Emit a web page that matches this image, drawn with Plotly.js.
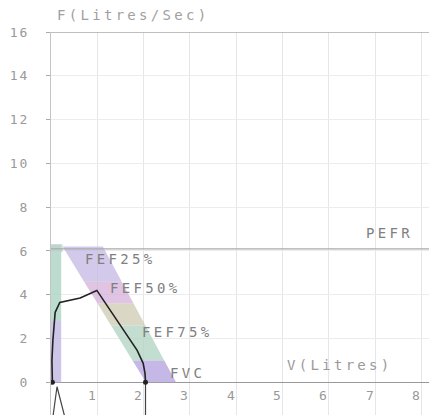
<!DOCTYPE html>
<html>
<head>
<meta charset="utf-8">
<script src="https://cdn.plot.ly/plotly-3.0.1.min.js"></script>
<style>
html, body { margin: 0; padding: 0; background: #fff; }
#chart { width: 429px; height: 415px; }
.annotation-text { letter-spacing: 3.3px; }
.ytick text { letter-spacing: 2px; }
</style>
</head>
<body>
<div id="chart"></div>
<script>
// ---- Data ----
// Expiratory flow-volume curve
const curveV = [0.03, 0.02, 0.04, 0.09, 0.19, 0.63, 0.99, 1.27, 1.56, 1.86, 1.99, 2.03, 2.04];
const curveF = [0.0, 1.0, 1.9, 3.2, 3.65, 3.85, 4.2, 3.3, 2.4, 1.46, 0.87, 0.4, 0.0];
// Visible parts of the inspiratory trace (below zero)
const inspV = [2.04, 2.04, null, 0.04, 0.13, 0.30];
const inspF = [0.0, -2.0, null, -1.6, -0.2, -1.6];
// Predicted band (vertical part near V=0)
const vertBandV = [0, 0.22];
const vertBandF = [0, 2.8, 6.3];
// Predicted band (diagonal part): edges at F = bandTopF and F = 0
const bandTopF = 6.2;
const bandInnerV = [0.25, 2.05];
const bandOuterV = [1.12, 2.7];
const bandSplitsF = [6.2, 4.6, 3.6, 2.6, 1.0, 0.0];
// Reference lines
const pefr = 6.1;
// Labels
const labelNames = ["FEF25%", "FEF50%", "FEF75%", "FVC", "PEFR"];
const labelV = [0.68, 1.23, 1.92, 2.53, 6.75];
const labelF = [5.65, 4.3, 2.3, 0.42, 6.8];
const xTicks = [1, 2, 3, 4, 5, 6, 7, 8];
const yTicks = [0, 2, 4, 6, 8, 10, 12, 14, 16];
const xTitle = "V(Litres)";
const yTitle = "F(Litres/Sec)";

// ---- Styles ----
const bandColors = ['rgba(196,184,228,0.75)', 'rgba(214,176,218,0.75)', 'rgba(206,202,176,0.75)',
                    'rgba(180,214,196,0.8)', 'rgba(188,172,226,0.85)'];
const vertColors = ['rgba(192,184,226,0.8)', 'rgba(178,214,200,0.85)'];
const textFont = {family: 'DejaVu Sans Mono, monospace', size: 14, color: '#808080'};

function edge(vals, F) { // linear edge position at flow F
  return vals[1] + (vals[0] - vals[1]) * (F / bandTopF);
}

const traces = [];
// vertical band
for (let i = 0; i < vertBandF.length - 1; i++) {
  const f0 = vertBandF[i], f1 = vertBandF[i + 1];
  traces.push({
    x: [vertBandV[0], vertBandV[1], vertBandV[1], vertBandV[0], vertBandV[0]],
    y: [f0, f0, f1, f1, f0],
    mode: 'lines', fill: 'toself', fillcolor: vertColors[i],
    line: {width: 0}, hoverinfo: 'skip', showlegend: false
  });
}
// diagonal band
for (let i = 0; i < bandSplitsF.length - 1; i++) {
  const fTop = bandSplitsF[i], fBot = bandSplitsF[i + 1];
  traces.push({
    x: [edge(bandInnerV, fTop), edge(bandOuterV, fTop), edge(bandOuterV, fBot), edge(bandInnerV, fBot), edge(bandInnerV, fTop)],
    y: [fTop, fTop, fBot, fBot, fTop],
    mode: 'lines', fill: 'toself', fillcolor: bandColors[i],
    line: {width: 0}, hoverinfo: 'skip', showlegend: false
  });
}
// top connector of band
traces.push({
  x: [0, edge(bandInnerV, bandTopF), edge(bandInnerV, bandTopF), 0, 0],
  y: [5.95, 5.95, 6.3, 6.3, 5.95],
  mode: 'lines', fill: 'toself', fillcolor: 'rgba(190,210,205,0.8)',
  line: {width: 0}, hoverinfo: 'skip', showlegend: false
});
// curve
traces.push({x: curveV, y: curveF, mode: 'lines', line: {color: '#222', width: 1.6},
  showlegend: false, hoverinfo: 'skip'});
traces.push({x: inspV, y: inspF, mode: 'lines', line: {color: '#444', width: 1.2},
  showlegend: false, hoverinfo: 'skip', connectgaps: false});
traces.push({x: [curveV[0], curveV[curveV.length - 1]], y: [curveF[0], curveF[curveF.length - 1]],
  mode: 'markers', marker: {color: '#222', size: 5}, showlegend: false, hoverinfo: 'skip'});

const annotations = [];
for (let i = 0; i < labelNames.length; i++) {
  annotations.push({x: labelV[i], y: labelF[i], xref: 'x', yref: 'y', text: labelNames[i],
    showarrow: false, xanchor: 'left', yanchor: 'middle', font: textFont});
}
for (const t of xTicks) {
  annotations.push({x: t, y: -0.62, xref: 'x', yref: 'y', text: String(t), xshift: -4,
    showarrow: false, xanchor: 'center', yanchor: 'middle',
    font: {family: 'DejaVu Sans Mono, monospace', size: 13, color: '#999'}});
}
annotations.push({x: 5.05, y: 0.8, xref: 'x', yref: 'y', text: xTitle, showarrow: false,
  xanchor: 'left', yanchor: 'middle', font: {family: 'DejaVu Sans Mono, monospace', size: 14, color: '#9a9a9a'}});
annotations.push({x: 0.01, y: 1.045, xref: 'paper', yref: 'paper', text: yTitle, showarrow: false,
  xanchor: 'left', yanchor: 'middle', font: {family: 'DejaVu Sans Mono, monospace', size: 14, color: '#a0a0a0'}});

const layout = {
  width: 429, height: 415,
  margin: {l: 51, r: 0, t: 32, b: 0, pad: 0},
  paper_bgcolor: '#fff', plot_bgcolor: '#fff',
  showlegend: false,
  xaxis: {range: [0, 8.16], dtick: 1, tick0: 0, showgrid: true, gridcolor: '#e6e6e6',
    showticklabels: false, zeroline: false, showline: false, ticks: ''},
  yaxis: {range: [-1.49, 16], tickvals: yTicks, showgrid: true, gridcolor: '#ececec',
    showline: true, linecolor: '#c4c4c4', ticks: 'outside', ticklen: 4, tickcolor: '#aaa',
    ticklabelstandoff: 14,
    tickfont: {family: 'DejaVu Sans Mono, monospace', size: 13, color: '#999'},
    zeroline: true, zerolinecolor: '#999', zerolinewidth: 1},
  shapes: [
    {type: 'line', xref: 'paper', yref: 'y', x0: 0, x1: 1, y0: 16, y1: 16, line: {color: '#aaa', width: 1.5}},
    {type: 'line', xref: 'paper', yref: 'y', x0: 0, x1: 1, y0: pefr, y1: pefr, line: {color: '#aaa', width: 1.3}}
  ],
  annotations: annotations
};

Plotly.newPlot('chart', traces, layout, {staticPlot: true, displayModeBar: false});
</script>
</body>
</html>
